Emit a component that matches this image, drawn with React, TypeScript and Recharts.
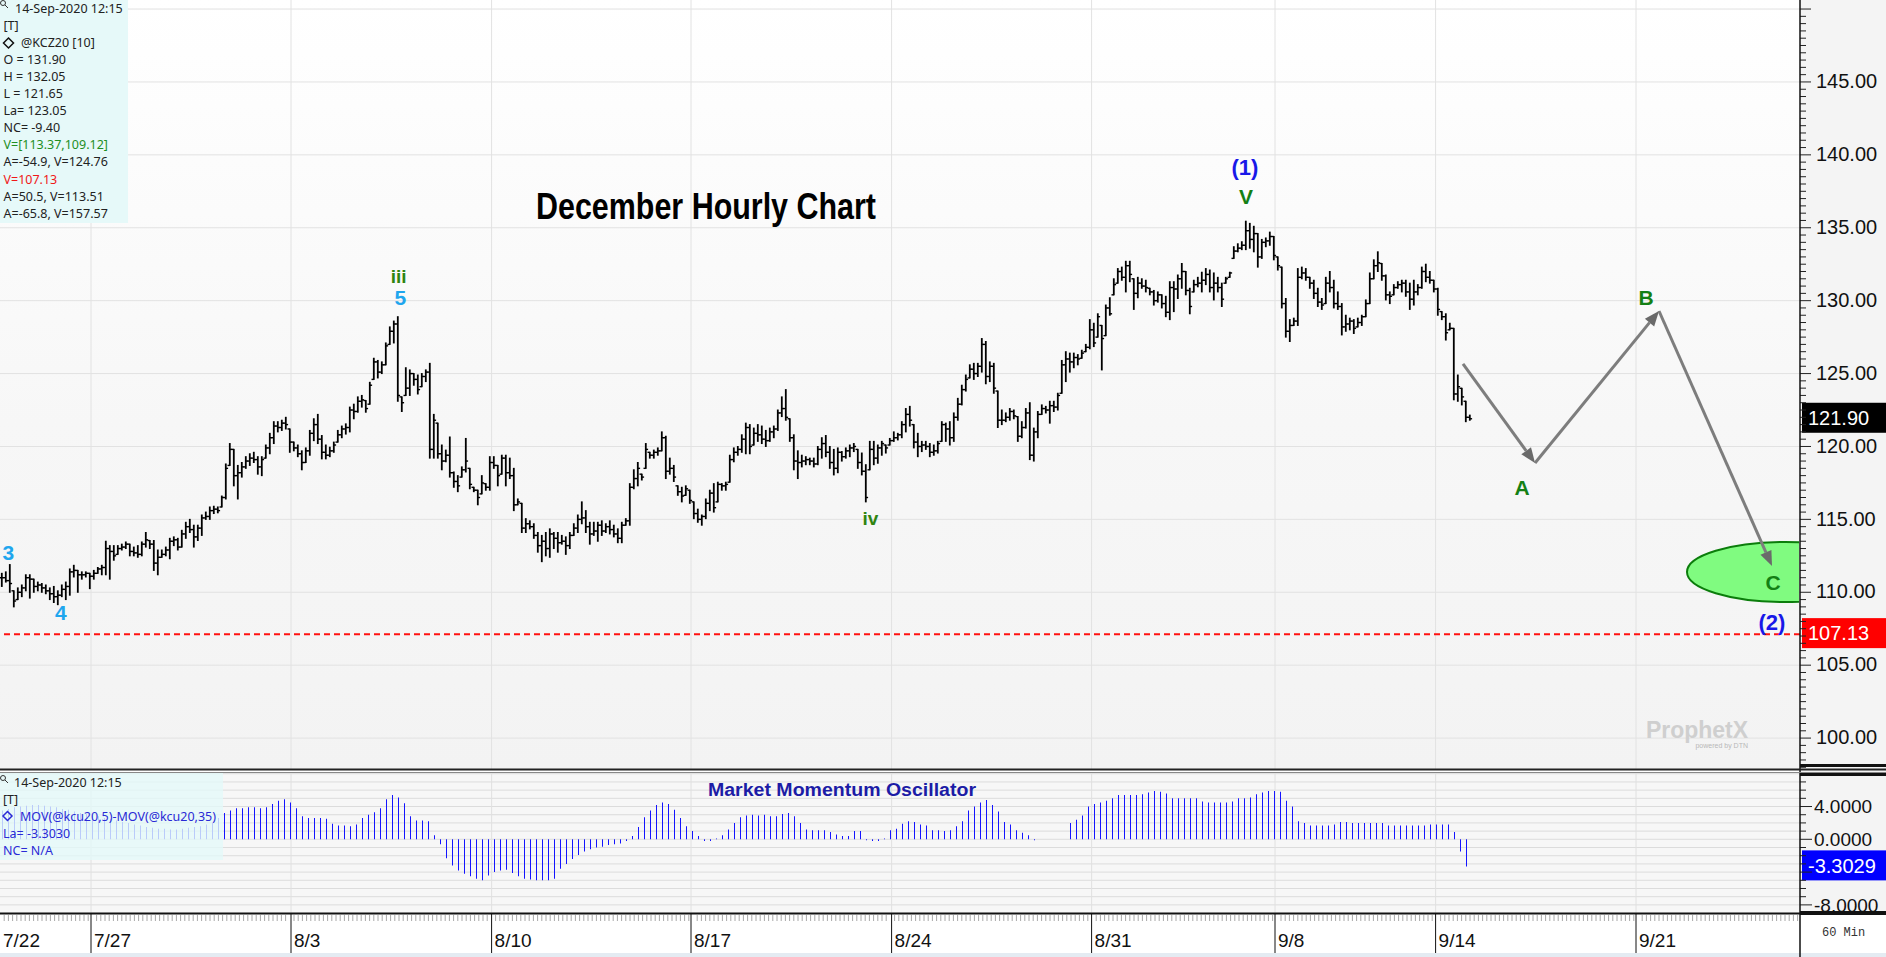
import React from 'react';
import { ComposedChart, Bar, XAxis, YAxis, ReferenceLine, ReferenceDot } from 'recharts';

// @KCZ20 hourly bars, 7/22 .. 9/14 12:15 (one entry per hour)
const highs = [
  111.3, 111.4, 111.9, 110.1, 110.3, 110.5, 111.2, 111.2, 110.9, 110.7,
  110.6, 110.5, 110.3, 110.4, 110.1, 110.5, 110.7, 111.6, 111.85, 111.5,
  111.4, 111.4, 111.3, 111.5, 111.7, 111.85, 113.5, 113.2, 113.2, 113.2,
  113.3, 113.45, 113.3, 113.1, 113.2, 113.45, 114.1, 113.55, 113.55, 112.9,
  112.9, 113.1, 113.7, 113.8, 113.7, 114.25, 114.8, 115.0, 114.6, 114.6,
  115.3, 115.5, 115.85, 115.9, 115.85, 116.6, 118.8, 120.2, 119.8, 118.7,
  118.9, 119.3, 119.5, 119.6, 119.3, 119.3, 120.1, 120.9, 121.7, 121.7,
  121.8, 122.0, 121.2, 120.3, 120.1, 119.7, 119.9, 121.1, 121.9, 122.2,
  120.75, 120.1, 119.95, 120.3, 121.1, 121.4, 121.55, 122.7, 122.9, 123.4,
  123.5, 123.15, 124.4,
  126.05, 125.9, 125.8, 127.1, 128.2, 128.6, 128.9, 123.4, 125.4, 125.25,
  125.0, 124.9, 125.0, 125.25, 125.7, 122.2, 121.6, 120.1, 119.75, 120.65,
  118.25, 118.0, 118.6, 120.55, 118.5, 117.2, 117.0, 118.0, 117.45, 119.3,
  119.3, 118.7, 119.4, 119.4, 119.2, 118.5, 116.4, 116.1, 115.05, 114.9,
  114.7, 114.1, 113.9, 114.1, 114.35, 114.1, 114.1, 113.9, 113.8, 114.1,
  114.7, 115.3, 116.2, 115.6, 114.8, 114.8, 114.8, 114.9, 114.7, 114.9,
  114.6, 114.35, 114.8, 115.05, 117.45, 118.4, 118.9, 118.1, 120.2, 119.6,
  119.75, 119.9, 121.0, 120.7, 119.2, 118.7, 117.3, 117.2, 117.3, 117.0,
  116.2, 115.7, 115.3, 116.4, 117.0, 117.45, 117.55, 117.45, 117.55, 119.4,
  119.9, 120.0, 120.8, 121.6,
  121.5, 121.26, 121.5, 121.4, 121.1, 121.26, 121.4, 122.5, 123.4, 123.9,
  121.9, 120.8, 119.7, 119.4, 119.3, 119.2, 119.2, 120.0, 120.6, 120.75,
  120.0, 119.8, 119.9, 119.65, 119.9, 120.1, 120.2, 119.8, 119.55, 118.75,
  120.35, 120.35, 120.1, 120.35, 120.1, 120.55, 121.0, 120.9, 121.7, 122.6,
  122.75, 121.5, 120.9, 120.35, 120.35, 120.2, 120.1, 120.35, 121.7, 121.6,
  121.7, 122.3, 123.3, 124.2, 124.9, 125.6, 125.7, 125.7, 127.4, 127.2,
  125.8, 125.7, 123.8, 122.5, 122.3, 122.6, 122.5, 122.05, 121.7, 122.6,
  123.0, 121.26, 122.4, 122.85, 122.75, 123.1, 123.1, 123.65, 125.9, 126.5,
  126.4, 126.4, 126.3, 126.6, 127.0, 128.7, 128.45, 129.1, 128.3, 129.7,
  130.2, 131.5, 132.2, 132.3, 132.7, 132.7, 131.5,
  131.6, 131.5, 131.4, 130.85, 130.7, 130.6, 130.4, 130.3, 131.3, 131.3,
  131.76, 132.55, 132.0, 130.85, 131.4, 131.6, 131.95, 132.2, 132.1, 131.9,
  131.6, 131.2, 131.6, 131.95, 133.7, 133.9, 134.04, 135.45, 135.3, 135.1,
  134.6, 134.2, 134.3, 134.7, 134.4, 133.0, 132.3, 130.15, 128.7, 128.8,
  132.2, 132.3, 132.2, 131.6, 131.4, 130.85, 130.15, 131.6, 132.0, 131.4,
  130.6, 129.8, 129.0, 128.8, 128.7, 128.8, 129.0, 130.05, 131.9, 132.8,
  133.35, 132.55, 131.76, 130.6, 131.1, 131.3, 131.4, 131.4, 131.2, 131.4,
  131.1, 132.3, 132.5, 132.0, 131.4, 130.85, 129.25, 129.1, 128.45, 128.1,
  124.9, 123.99, 123.1, 122.15,
];

const lows = [
  110.4, 110.7, 110.0, 109.0, 109.5, 109.7, 110.1, 109.6, 110.0, 110.1,
  110.0, 109.9, 109.5, 109.3, 109.15, 109.7, 109.5, 109.8, 111.05, 110.0,
  110.9, 111.05, 110.25, 110.9, 111.3, 111.2, 111.2, 110.9, 112.2, 112.6,
  112.9, 113.0, 112.5, 112.5, 112.4, 112.5, 113.1, 113.0, 111.5, 111.2,
  112.4, 112.5, 112.3, 113.2, 112.9, 113.1, 113.7, 114.1, 113.1, 113.55,
  113.9, 115.0, 115.0, 115.4, 115.45, 115.85, 116.4, 118.7, 117.3, 116.4,
  117.9, 118.5, 118.7, 118.9, 118.1, 118.0, 119.2, 119.5, 120.2, 121.0,
  121.1, 121.2, 119.6, 119.7, 119.3, 118.4, 118.9, 119.4, 120.4, 120.2,
  119.15, 119.15, 119.3, 119.6, 120.3, 120.6, 120.85, 121.0, 121.9, 122.35,
  122.7, 122.35, 122.9,
  124.6, 124.7, 125.0, 125.6, 127.0, 127.1, 123.1, 122.4, 123.5, 123.5,
  124.2, 123.6, 124.1, 124.45, 119.2, 119.2, 119.2, 118.4, 118.95, 117.9,
  117.2, 116.9, 117.9, 118.25, 117.1, 116.9, 116.0, 116.75, 117.0, 117.0,
  118.5, 117.3, 118.1, 117.3, 117.8, 115.6, 116.0, 114.1, 114.1, 114.35,
  113.7, 112.75, 112.1, 112.5, 112.4, 113.0, 112.75, 113.3, 112.6, 113.0,
  113.9, 114.1, 114.7, 114.1, 113.3, 113.9, 113.5, 113.9, 114.1, 114.0,
  113.8, 113.4, 113.4, 114.6, 114.6, 117.1, 117.3, 117.7, 118.5, 119.2,
  119.2, 119.4, 119.7, 117.8, 118.1, 117.6, 116.65, 116.2, 116.65, 116.1,
  115.05, 114.8, 114.6, 115.05, 115.6, 115.5, 116.2, 117.0, 117.0, 117.55,
  118.95, 119.4, 119.6, 119.5,
  119.5, 120.1, 120.35, 120.2, 120.0, 120.35, 120.6, 121.1, 122.05, 121.8,
  120.35, 118.4, 117.8, 118.6, 118.75, 118.75, 118.6, 118.75, 119.2, 119.3,
  118.5, 118.05, 118.2, 119.0, 119.2, 119.3, 119.65, 118.5, 118.05, 116.2,
  118.4, 118.75, 118.85, 119.4, 119.55, 120.1, 120.35, 120.45, 120.6, 121.0,
  121.4, 119.9, 119.3, 119.65, 119.8, 119.3, 119.4, 119.55, 120.35, 120.35,
  120.1, 120.35, 121.8, 122.85, 123.8, 124.7, 124.6, 124.8, 125.1, 124.3,
  124.45, 123.65, 121.3, 121.5, 121.7, 121.8, 121.9, 120.35, 120.6, 121.26,
  119.1, 119.0, 120.6, 122.2, 122.3, 121.6, 122.4, 122.5, 123.65, 124.45,
  125.1, 125.4, 125.6, 126.05, 126.5, 126.7, 126.85, 127.5, 125.25, 127.6,
  129.0, 130.4, 131.2, 131.4, 130.6, 131.3, 129.4,
  130.2, 130.85, 130.6, 130.4, 129.7, 129.9, 129.5, 128.9, 128.7, 129.25,
  130.15, 130.85, 130.4, 129.1, 130.6, 130.95, 130.6, 131.1, 130.6, 130.05,
  130.6, 129.6, 131.2, 131.6, 132.9, 133.35, 133.5, 133.5, 133.6, 133.35,
  132.3, 132.9, 133.7, 133.8, 132.8, 132.1, 129.5, 127.5, 127.2, 128.3,
  128.3, 131.5, 131.4, 130.85, 130.15, 129.6, 129.4, 129.8, 130.6, 129.5,
  129.4, 127.65, 127.9, 128.0, 127.75, 128.2, 128.3, 128.9, 129.8, 131.5,
  132.0, 131.4, 130.05, 129.8, 130.4, 130.85, 130.6, 130.3, 129.4, 129.7,
  130.4, 130.85, 131.3, 131.2, 130.6, 129.0, 128.7, 127.3, 128.0, 123.2,
  123.1, 122.85, 121.7, 121.8,
];

const closes = [
  111.0, 110.8, 110.6, 109.4, 110.0, 110.3, 111.0, 110.9, 110.4, 110.5,
  110.3, 110.1, 109.9, 109.7, 109.8, 110.2, 110.4, 111.4, 111.5, 111.2,
  111.2, 111.3, 111.1, 111.3, 111.6, 111.7, 113.0, 112.8, 112.5, 113.0,
  113.1, 113.3, 112.8, 112.7, 112.6, 113.3, 113.6, 113.3, 112.0, 112.4,
  112.6, 112.9, 113.5, 113.6, 113.1, 114.0, 114.5, 114.3, 113.8, 114.4,
  115.1, 115.2, 115.6, 115.7, 115.6, 116.5, 118.5, 119.8, 118.0, 118.2,
  118.6, 119.0, 119.2, 119.1, 118.6, 119.1, 119.9, 120.6, 121.4, 121.3,
  121.6, 121.5, 120.3, 119.9, 119.5, 118.9, 119.7, 120.9, 121.5, 120.5,
  119.6, 119.4, 119.7, 120.1, 120.8, 121.2, 121.3, 122.5, 122.4, 123.1,
  123.2, 122.6, 124.2,
  125.8, 125.1, 125.6, 126.9, 127.9, 128.4, 123.5, 123.0, 124.0, 125.0,
  124.6, 123.9, 124.8, 125.1, 119.8, 121.8, 119.5, 119.0, 119.4, 118.2,
  117.6, 117.3, 118.4, 119.0, 117.4, 117.0, 116.5, 117.5, 117.2, 118.9,
  118.7, 118.0, 119.2, 118.2, 118.0, 116.0, 116.2, 114.4, 114.7, 114.5,
  113.9, 113.2, 113.5, 113.0, 114.0, 113.7, 113.4, 113.5, 113.2, 113.9,
  114.4, 115.0, 115.1, 114.5, 114.0, 114.2, 114.6, 114.2, 114.5, 114.3,
  114.0, 113.7, 114.6, 114.9, 117.2, 117.8, 118.5, 117.9, 119.8, 119.4,
  119.6, 119.7, 120.6, 118.3, 118.5, 117.9, 116.9, 116.6, 117.1, 116.3,
  115.4, 115.0, 115.2, 116.1, 116.8, 115.8, 117.4, 117.3, 117.4, 119.1,
  119.6, 119.8, 120.5, 121.3,
  120.0, 120.9, 120.8, 120.5, 120.4, 121.0, 121.2, 122.3, 122.6, 122.0,
  120.6, 119.0, 118.9, 119.0, 119.1, 119.0, 118.8, 119.8, 120.2, 119.6,
  118.9, 118.5, 119.6, 119.3, 119.7, 119.9, 120.0, 118.9, 118.3, 116.5,
  119.8, 119.2, 119.9, 120.2, 119.9, 120.4, 120.6, 120.8, 121.5, 122.2,
  121.8, 120.3, 120.0, 120.1, 120.0, 119.6, 119.7, 120.2, 121.5, 121.2,
  120.6, 122.0, 122.9, 123.9, 124.6, 125.3, 125.0, 125.5, 127.0, 124.8,
  125.5, 124.0, 121.8, 121.8, 122.0, 122.4, 122.1, 120.7, 121.3, 122.3,
  119.4, 121.0, 122.2, 122.6, 122.5, 122.8, 122.7, 123.5, 125.6, 126.0,
  125.8, 126.1, 126.0, 126.4, 126.8, 128.0, 127.1, 128.9, 127.4, 129.5,
  129.1, 131.1, 132.0, 131.6, 132.4, 131.8, 130.5,
  131.2, 131.0, 130.9, 130.6, 130.0, 130.4, 129.8, 129.2, 130.9, 130.8,
  131.5, 132.0, 130.7, 129.6, 131.1, 131.2, 131.4, 131.8, 130.9, 131.2,
  130.9, 130.1, 131.5, 131.9, 133.4, 133.6, 133.8, 134.8, 134.2, 134.6,
  133.0, 134.0, 134.1, 134.4, 133.1, 132.4, 129.8, 127.9, 128.3, 128.6,
  131.6, 131.9, 131.6, 131.2, 130.5, 129.9, 129.7, 131.2, 130.9, 129.8,
  129.6, 128.2, 128.4, 128.6, 128.1, 128.5, 128.9, 129.8, 131.5, 132.4,
  132.6, 131.7, 130.4, 130.3, 130.9, 131.1, 131.2, 130.6, 130.1, 130.6,
  130.9, 132.0, 131.6, 131.4, 130.8, 129.4, 128.9, 127.8, 128.1, 123.6,
  124.1, 123.4, 122.0, 121.9,
];

// MOV(@kcu20,5)-MOV(@kcu20,35), one value per oscillator bar (null = no data)
const oscValues = [
  3.5, 3.7, 3.9, 4.0, 4.1, 4.2, 4.2, 4.1, 4.0, 3.9,
  3.7, 3.6, 3.4, 3.2, 3.1, 2.9, 2.8, 2.6, 2.5, 2.3,
  2.1, 2.0, 1.8, 1.7, 1.5, 1.4, 1.3, 1.3, 1.2, 1.2,
  1.3, 1.4, 1.5, 1.6, 1.8, 2.0, 2.6, 3.2, 3.5, 3.8,
  3.8, 3.9, 3.9, 3.8, 3.9, 4.3, 4.7, 4.9, 4.5, 3.8,
  2.8, 2.6, 2.6, 2.6, 2.5, 1.9, 1.7, 1.7, 1.6, 1.8,
  2.6, 3.0, 3.3, 3.8, 4.9, 5.4, 5.1, 4.4, 2.8, 2.3,
  2.3, 2.2, 0.5, -0.6, -2.3, -3.2, -3.8, -4.2, -4.5, -4.8,
  -5.0, -4.4, -4.0, -3.8, -3.7, -4.1, -4.5, -4.8, -4.9, -5.0,
  -5.0, -5.0, -4.8, -3.6, -3.0, -2.4, -1.9, -1.5, -1.2, -1.0,
  -0.9, -0.7, -0.6, -0.5, -0.2, 0.4, 1.5, 2.7, 3.5, 4.2,
  4.5, 4.3, 3.6, 2.6, 1.6, 1.0, 0.4, -0.2, -0.2, 0.1,
  0.5, 1.2, 2.0, 2.7, 2.9, 3.0, 2.9, 3.0, 2.8, 2.8,
  3.1, 3.2, 2.8, 2.0, 1.2, 1.1, 1.1, 1.1, 0.9, 0.6,
  0.4, 0.4, 1.0, 1.0, -0.1, -0.2, -0.2, 0.1, 1.1, 1.3,
  1.9, 2.2, 2.1, 1.8, 1.7, 1.1, 1.1, 1.0, 1.1, 1.6,
  2.2, 3.5, 4.0, 4.5, 4.8, 4.2, 3.4, 2.1, 1.8, 1.1,
  0.8, 0.5, -0.1, null, null, null, null, null, 2.0, 2.4,
  2.9, 4.0, 4.3, 4.5, 4.7, 5.0, 5.4, 5.4, 5.4, 5.4,
  5.5, 5.7, 5.9, 5.8, 5.6, 5.0, 5.0, 5.0, 5.0, 5.0,
  4.6, 4.5, 4.5, 4.5, 4.5, 4.6, 5.0, 5.0, 5.1, 5.5,
  5.7, 5.9, 5.9, 5.8, 4.7, 4.0, 2.2, 2.0, 1.7, 1.7,
  1.7, 1.7, 1.8, 2.1, 2.1, 2.0, 2.0, 2.0, 2.0, 2.0,
  2.0, 1.7, 1.7, 1.7, 1.7, 1.7, 1.7, 1.7, 1.8, 1.8,
  1.8, 1.8, 0.9, -1.5, -3.3029,
];

const dateLabels = ['7/22', '7/27', '8/3', '8/10', '8/17', '8/24', '8/31', '9/8', '9/14', '9/21'];
// session starts, measured in hourly bars from the left edge
const dateBarPos = [0, 22.75, 72.75, 122.9, 172.75, 222.9, 272.9, 318.75, 358.9, 409];

const supportLevel = 107.13;

// elliott wave labels (bar position, price)
const waveLabels = [
  { x: 2.1, y: 112.72, text: '3', kind: 'minor' },
  { x: 15.2, y: 108.58, text: '4', kind: 'minor' },
  { x: 99.65, y: 131.69, text: 'iii', kind: 'roman' },
  { x: 100.1, y: 130.19, text: '5', kind: 'minor' },
  { x: 217.6, y: 115.03, text: 'iv', kind: 'roman' },
  { x: 311.25, y: 139.1, text: '(1)', kind: 'major' },
  { x: 311.5, y: 137.11, text: 'V', kind: 'abc' },
  { x: 380.5, y: 117.22, text: 'A', kind: 'abc' },
  { x: 411.5, y: 130.19, text: 'B', kind: 'abc' },
  { x: 443.25, y: 110.64, text: 'C', kind: 'abc' },
  { x: 443, y: 107.96, text: '(2)', kind: 'major' },
];

// projected A-B-C path
const projection = [
  { x: 365.75, y: 125.66 },
  { x: 383.75, y: 118.87 },
  { x: 414.75, y: 129.29 },
  { x: 443, y: 111.8 },
];
const targetZone = { x: 446.25, y: 111.39 };

const infoLines = [
  { t: '14-Sep-2020 12:15', c: '#222' },
  { t: '[T]', c: '#222' },
  { t: '@KCZ20 [10]', c: '#222' },
  { t: 'O = 131.90', c: '#222' },
  { t: 'H = 132.05', c: '#222' },
  { t: 'L = 121.65', c: '#222' },
  { t: 'La= 123.05', c: '#222' },
  { t: 'NC= -9.40', c: '#222' },
  { t: 'V=[113.37,109.12]', c: '#1f8f1f' },
  { t: 'A=-54.9, V=124.76', c: '#222' },
  { t: 'V=107.13', c: '#f01818' },
  { t: 'A=50.5, V=113.51', c: '#222' },
  { t: 'A=-65.8, V=157.57', c: '#222' },
];
const oscInfoLines = [
  { t: '14-Sep-2020 12:15', c: '#222' },
  { t: '[T]', c: '#222' },
  { t: 'MOV(@kcu20,5)-MOV(@kcu20,35)', c: '#2a2ad6' },
  { t: 'La= -3.3030', c: '#2a2ad6' },
  { t: 'NC= N/A', c: '#2a2ad6' },
];

const W = 1886;
const H = 957;
const PLOT_W = 1800;
const AXIS_W = W - PLOT_W;
const PRICE_H = 769;
const OSC_TOP = 773;
const OSC_H = 184;

const priceData = highs.map((h, i) => ({
  i: i + 0.5,
  h,
  l: lows[i],
  c: closes[i],
  o: i > 0 ? closes[i - 1] : closes[0],
}));
const oscData = oscValues.map((v, j) => ({ j: j + 0.5, v }));
const lastClose = closes[closes.length - 1];
const lastOsc = oscValues[oscValues.length - 1] as number;

const BAR_TO_OSC = 4 / 6;
const oscDatePos = dateBarPos.map((p) => p * BAR_TO_OSC);
const minorDateTicks = Array.from({ length: 429 }, (_, k) => k * 0.7).filter(
  (t) => oscDatePos.every((p) => Math.abs(p - t) > 0.35)
);
const oscAxisTicks = [...minorDateTicks, ...oscDatePos].sort((a, b) => a - b);

const priceTicks = Array.from({ length: 105 }, (_, k) => 98 + k * 0.5);
const priceGrid = [100, 105, 110, 115, 120, 125, 130, 135, 140, 145, 150];
const oscTicks = Array.from({ length: 17 }, (_, k) => k - 8);

const labelStyles: Record<string, { fill: string; size: number }> = {
  minor: { fill: '#1fa6ee', size: 21 },
  roman: { fill: '#2f8410', size: 19 },
  major: { fill: '#1818e8', size: 22 },
  abc: { fill: '#148014', size: 21 },
};

const AXIS_FONT = 'Liberation Sans, Arial, sans-serif';
const INFO_FONT = '"Noto Sans", "Open Sans", sans-serif';

function OhlcShape(props: any) {
  const { x, y, width, height, payload } = props;
  if (x == null || y == null || !payload) return null;
  const cx = x + width / 2;
  const top = Math.min(y, y + height);
  const bot = Math.max(y, y + height);
  const span = payload.h - payload.l || 1;
  const yAt = (v: number) => {
    const cl = Math.max(payload.l, Math.min(payload.h, v));
    return top + ((payload.h - cl) / span) * (bot - top);
  };
  const yo = yAt(payload.o);
  const yc = yAt(payload.c);
  return (
    <g stroke="#000">
      <line x1={cx} x2={cx} y1={top - 0.5} y2={bot + 0.5} strokeWidth={1.8} />
      <line x1={cx - 2.3} x2={cx} y1={yo} y2={yo} strokeWidth={1.4} />
      <line x1={cx} x2={cx + 2.3} y1={yc} y2={yc} strokeWidth={1.4} />
    </g>
  );
}

function PriceTick(props: any) {
  const { x, y, payload } = props;
  const v = payload.value;
  const major = Math.abs(v % 5) < 1e-6;
  return (
    <g>
      <line x1={x} x2={x + (major ? 11 : 6)} y1={y} y2={y} stroke="#222" strokeWidth={1} />
      {major && v < 150 && (
        <text x={x + 16} y={y - 1} dy="0.36em" fontSize={20} fill="#111" fontFamily={AXIS_FONT}>
          {v.toFixed(2)}
        </text>
      )}
    </g>
  );
}

function OscTick(props: any) {
  const { x, y, payload } = props;
  const v = payload.value;
  const major = v % 4 === 0;
  const showLabel = v === 4 || v === 0 || v === -8;
  return (
    <g>
      <line x1={x} x2={x + (major ? 12 : 6)} y1={y} y2={y} stroke="#222" strokeWidth={1} />
      {showLabel && (
        <text x={x + 14} y={y} dy="0.36em" fontSize={19} fill="#111" fontFamily={AXIS_FONT}>
          {v.toFixed(4)}
        </text>
      )}
    </g>
  );
}

function DateTick(props: any) {
  const { x, y, payload } = props;
  const k = oscDatePos.findIndex((p) => Math.abs(p - payload.value) < 1e-6);
  if (k >= 0) {
    return (
      <g>
        {k > 0 && <line x1={x} x2={x} y1={y} y2={y + 40} stroke="#111" strokeWidth={1} />}
        <text x={x + 3} y={y + 27} dy="0.36em" fontSize={19} fill="#111" fontFamily={AXIS_FONT}>
          {dateLabels[k]}
        </text>
      </g>
    );
  }
  return <line x1={x} x2={x} y1={y + 2} y2={y + 8} stroke="#a8a8a8" strokeWidth={1} />;
}

const valueBox = (text: string, bg: string) => (props: any) => {
  const vb = props.viewBox || {};
  if (vb.x == null) return null;
  const bx = vb.x + vb.width + 2;
  const cy = vb.y;
  return (
    <g>
      <rect x={bx} y={cy - 16} width={AXIS_W - 2} height={30} fill={bg} />
      <text x={bx + 6} y={cy - 1} dy="0.36em" fontSize={20} fill="#fff" fontFamily={AXIS_FONT}>
        {text}
      </text>
    </g>
  );
};

function ArrowShape(props: any) {
  const { x1, y1, x2, y2 } = props;
  if ([x1, y1, x2, y2].some((v) => v == null || Number.isNaN(v))) return null;
  const ang = Math.atan2(y2 - y1, x2 - x1);
  const len = 15;
  const half = 6;
  const bx = x2 - len * Math.cos(ang);
  const by = y2 - len * Math.sin(ang);
  const px = -Math.sin(ang) * half;
  const py = Math.cos(ang) * half;
  return (
    <g>
      <line x1={x1} y1={y1} x2={bx} y2={by} stroke="#7d7d7d" strokeWidth={3} />
      <polygon points={`${x2},${y2} ${bx + px},${by + py} ${bx - px},${by - py}`} fill="#6a6a6a" />
    </g>
  );
}

function ZoneShape(p: any) {
  if (p.cx == null) return null;
  return (
    <g>
      <defs>
        <clipPath id="price-plot-clip">
          <rect x={0} y={0} width={PLOT_W - 1} height={PRICE_H} />
        </clipPath>
      </defs>
      <ellipse
        clipPath="url(#price-plot-clip)"
        cx={p.cx}
        cy={p.cy}
        rx={98}
        ry={30}
        fill="#80fb80"
        stroke="#0b7d0b"
        strokeWidth={2}
      />
    </g>
  );
}

function PriceChart() {
  return (
    <ComposedChart width={W} height={PRICE_H} data={priceData} margin={{ top: 0, right: 0, bottom: 0, left: 0 }}>
      <XAxis type="number" dataKey="i" domain={[0, 450]} allowDataOverflow ticks={dateBarPos} hide />
      <YAxis
        orientation="right"
        width={AXIS_W}
        type="number"
        domain={[97.88, 150.62]}
        allowDataOverflow
        ticks={priceTicks}
        interval={0}
        tick={<PriceTick />}
        tickLine={false}
        axisLine={false}
        tickSize={0}
        tickMargin={0}
      />
      {priceGrid.map((p) => (
        <ReferenceLine key={`g${p}`} y={p} stroke="#e2e2e2" strokeWidth={1} zIndex={-100} />
      ))}
      {dateBarPos.slice(1).map((p) => (
        <ReferenceLine key={`v${p}`} x={p} stroke="#e2e2e2" strokeWidth={1} zIndex={-100} />
      ))}
      <ReferenceLine
        y={supportLevel}
        stroke="#ff1010"
        strokeWidth={2}
        strokeDasharray="6 4"
        zIndex={100}
        label={valueBox(supportLevel.toFixed(2), '#ff0000')}
      />
      <ReferenceLine y={lastClose} stroke="none" label={valueBox(lastClose.toFixed(2), '#000000')} />
      <Bar dataKey={(d: any) => [d.l, d.h]} barSize={4} shape={OhlcShape} isAnimationActive={false} />
      <ReferenceDot x={targetZone.x} y={targetZone.y} zIndex={450} shape={ZoneShape} />
      {projection.slice(1).map((pt, k) => (
        <ReferenceLine key={`a${k}`} segment={[projection[k], pt]} zIndex={500} shape={ArrowShape} />
      ))}
      {waveLabels.map((w) => {
        const st = labelStyles[w.kind];
        return (
          <ReferenceDot
            key={w.text + w.x}
            x={w.x}
            y={w.y}
            zIndex={600}
            shape={(p: any) => (
              <text
                x={p.cx}
                y={p.cy}
                textAnchor="middle"
                dominantBaseline="central"
                fontSize={st.size}
                fontWeight="bold"
                fill={st.fill}
                fontFamily={AXIS_FONT}
              >
                {w.text}
              </text>
            )}
          />
        );
      })}
    </ComposedChart>
  );
}

function OscChart() {
  return (
    <ComposedChart width={W} height={OSC_H} data={oscData} margin={{ top: 0, right: 0, bottom: 0, left: 0 }}>
      <XAxis
        type="number"
        dataKey="j"
        domain={[0, 300]}
        allowDataOverflow
        ticks={oscAxisTicks}
        interval={0}
        tick={<DateTick />}
        tickLine={false}
        axisLine={false}
        tickSize={0}
        tickMargin={0}
        height={44}
      />
      <YAxis
        orientation="right"
        width={AXIS_W}
        type="number"
        domain={[-8.99, 8.09]}
        allowDataOverflow
        ticks={oscTicks}
        interval={0}
        tick={<OscTick />}
        tickLine={false}
        axisLine={false}
        tickSize={0}
        tickMargin={0}
      />
      {oscTicks.map((v) => (
        <ReferenceLine key={`h${v}`} y={v} stroke="#dcdcdc" strokeWidth={1} zIndex={-100} />
      ))}
      {oscDatePos.slice(1).map((p) => (
        <ReferenceLine key={`v${p}`} x={p} stroke="#e0e0e0" strokeWidth={1} zIndex={-100} />
      ))}
      <Bar dataKey="v" barSize={1} fill="#1414ff" isAnimationActive={false} />
      <ReferenceLine y={lastOsc} stroke="none" label={valueBox(lastOsc.toFixed(4), '#0000ff')} />
    </ComposedChart>
  );
}

function Magnifier({ x, y }: { x: number; y: number }) {
  return (
    <g stroke="#333" fill="none" strokeWidth={1}>
      <circle cx={x + 3} cy={y + 3} r={2.5} />
      <line x1={x + 5} y1={y + 5} x2={x + 8} y2={y + 8} />
    </g>
  );
}

function Overlay() {
  return (
    <svg width={W} height={H} style={{ position: 'absolute', left: 0, top: 0, pointerEvents: 'none' }}>
      {/* quote box */}
      <rect x={0} y={0} width={128} height={223} fill="#e6f9f9" />
      <Magnifier x={0} y={0} />
      <polygon points="8.5,38 13.5,43 8.5,48 3.5,43" fill="none" stroke="#111" strokeWidth={1.5} />
      {infoLines.map((l, k) => (
        <text
          key={k}
          x={k === 0 ? 15 : k === 2 ? 21 : 3.5}
          y={8.5 + k * 17.05}
          dy="0.36em"
          fontSize={12.5}
          fill={l.c}
          fontFamily={INFO_FONT}
        >
          {l.t}
        </text>
      ))}

      {/* title */}
      <text
        x={706}
        y={219}
        textAnchor="middle"
        fontSize={36}
        fontWeight="bold"
        textLength={340}
        lengthAdjust="spacingAndGlyphs"
        fill="#000"
        fontFamily="'Liberation Sans Narrow', 'Liberation Sans', Arial, sans-serif"
      >
        December Hourly Chart
      </text>

      {/* watermark */}
      <text x={1697} y={738} textAnchor="middle" fontSize={23} fontWeight="bold" fill="#cfcfcf" fontFamily={AXIS_FONT}>
        ProphetX
      </text>
      <text x={1748} y={748} textAnchor="end" fontSize={7} fill="#b8b8b8" fontFamily={AXIS_FONT}>
        powered by DTN
      </text>

      {/* panel frames */}
      <line x1={PLOT_W} x2={PLOT_W} y1={0} y2={H} stroke="#111" strokeWidth={1.5} />
      <rect x={0} y={768.5} width={W} height={2} fill="#222" />
      <rect x={0} y={772} width={W} height={1} fill="#888" />
      <rect x={PLOT_W} y={764} width={AXIS_W} height={3} fill="#111" />
      <rect x={PLOT_W} y={773} width={AXIS_W} height={3} fill="#111" />
      <rect x={0} y={912.5} width={W} height={2} fill="#111" />
      <rect x={PLOT_W} y={911} width={AXIS_W} height={4} fill="#111" />

      {/* oscillator box */}
      <rect x={0} y={773} width={223} height={87} fill="rgba(228,249,249,0.8)" />
      <Magnifier x={0} y={775} />
      <polygon points="7.5,811.5 12,816 7.5,820.5 3,816" fill="none" stroke="#2a2ad6" strokeWidth={1.5} />
      {oscInfoLines.map((l, k) => (
        <text
          key={k}
          x={k === 0 ? 14 : k === 2 ? 20 : 3}
          y={782 + k * 17}
          dy="0.36em"
          fontSize={12.5}
          fill={l.c}
          fontFamily={INFO_FONT}
        >
          {l.t}
        </text>
      ))}
      <text
        x={842}
        y={796}
        textAnchor="middle"
        fontSize={18}
        fontWeight="bold"
        textLength={268}
        lengthAdjust="spacingAndGlyphs"
        fill="#1c1ca6"
        fontFamily="'Liberation Sans Narrow', 'Liberation Sans', Arial, sans-serif"
      >
        Market Momentum Oscillator
      </text>

      <text x={1822} y={936} fontSize={12} fill="#333" fontFamily="'Liberation Mono', 'DejaVu Sans Mono', monospace">
        60 Min
      </text>
    </svg>
  );
}

export default function App() {
  return (
    <div style={{ position: 'relative', width: W, height: H, overflow: 'hidden', background: '#ffffff' }}>
      <style>{'body{margin:0;}'}</style>
      <div
        style={{
          position: 'absolute',
          left: 0,
          top: 0,
          width: PLOT_W,
          height: PRICE_H,
          background: 'linear-gradient(#ffffff 0%, #f7f7f7 55%, #f3f3f3 100%)',
        }}
      />
      <div style={{ position: 'absolute', left: PLOT_W, top: 0, width: AXIS_W, height: 913, background: '#f4f4f4' }} />
      <div style={{ position: 'absolute', left: 0, top: OSC_TOP, width: PLOT_W, height: 140, background: '#f7f7f7' }} />
      <div style={{ position: 'absolute', left: 0, top: 953, width: W, height: 4, background: '#e4ebf2' }} />
      <div style={{ position: 'absolute', left: 0, top: 0 }}>
        <PriceChart />
      </div>
      <div style={{ position: 'absolute', left: 0, top: OSC_TOP }}>
        <OscChart />
      </div>
      <Overlay />
    </div>
  );
}
